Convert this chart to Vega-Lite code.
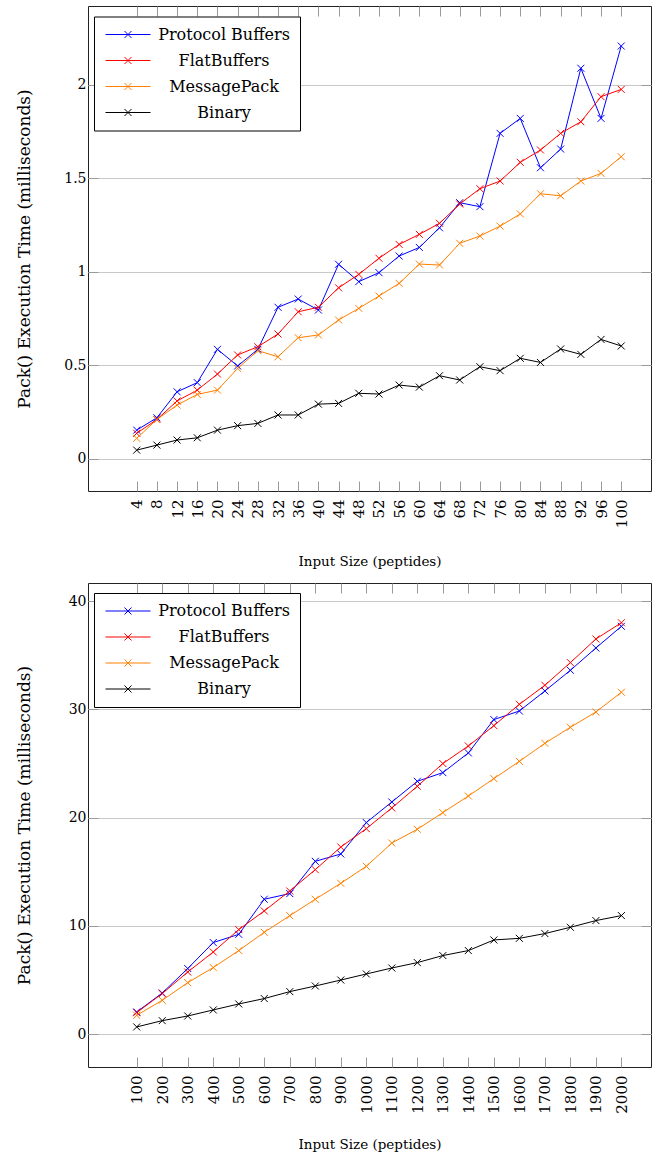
{
  "$schema": "https://vega.github.io/schema/vega-lite/v6.json",
  "background": "white",
  "padding": {"left": 14, "top": 5, "right": 5, "bottom": 5},
  "spacing": 13,
  "datasets": {
    "small": [
      {"size": 4, "lib": "Protocol Buffers", "time": 0.153}, {"size": 8, "lib": "Protocol Buffers", "time": 0.219}, {"size": 12, "lib": "Protocol Buffers", "time": 0.358}, {"size": 16, "lib": "Protocol Buffers", "time": 0.407}, {"size": 20, "lib": "Protocol Buffers", "time": 0.585}, {"size": 24, "lib": "Protocol Buffers", "time": 0.496}, {"size": 28, "lib": "Protocol Buffers", "time": 0.585}, {"size": 32, "lib": "Protocol Buffers", "time": 0.81}, {"size": 36, "lib": "Protocol Buffers", "time": 0.854}, {"size": 40, "lib": "Protocol Buffers", "time": 0.795}, {"size": 44, "lib": "Protocol Buffers", "time": 1.04}, {"size": 48, "lib": "Protocol Buffers", "time": 0.947}, {"size": 52, "lib": "Protocol Buffers", "time": 0.995}, {"size": 56, "lib": "Protocol Buffers", "time": 1.084}, {"size": 60, "lib": "Protocol Buffers", "time": 1.13}, {"size": 64, "lib": "Protocol Buffers", "time": 1.235}, {"size": 68, "lib": "Protocol Buffers", "time": 1.369}, {"size": 72, "lib": "Protocol Buffers", "time": 1.348}, {"size": 76, "lib": "Protocol Buffers", "time": 1.74}, {"size": 80, "lib": "Protocol Buffers", "time": 1.82}, {"size": 84, "lib": "Protocol Buffers", "time": 1.556}, {"size": 88, "lib": "Protocol Buffers", "time": 1.656}, {"size": 92, "lib": "Protocol Buffers", "time": 2.088}, {"size": 96, "lib": "Protocol Buffers", "time": 1.82}, {"size": 100, "lib": "Protocol Buffers", "time": 2.207},
      {"size": 4, "lib": "FlatBuffers", "time": 0.136}, {"size": 8, "lib": "FlatBuffers", "time": 0.21}, {"size": 12, "lib": "FlatBuffers", "time": 0.309}, {"size": 16, "lib": "FlatBuffers", "time": 0.367}, {"size": 20, "lib": "FlatBuffers", "time": 0.453}, {"size": 24, "lib": "FlatBuffers", "time": 0.555}, {"size": 28, "lib": "FlatBuffers", "time": 0.599}, {"size": 32, "lib": "FlatBuffers", "time": 0.667}, {"size": 36, "lib": "FlatBuffers", "time": 0.786}, {"size": 40, "lib": "FlatBuffers", "time": 0.81}, {"size": 44, "lib": "FlatBuffers", "time": 0.914}, {"size": 48, "lib": "FlatBuffers", "time": 0.986}, {"size": 52, "lib": "FlatBuffers", "time": 1.072}, {"size": 56, "lib": "FlatBuffers", "time": 1.146}, {"size": 60, "lib": "FlatBuffers", "time": 1.2}, {"size": 64, "lib": "FlatBuffers", "time": 1.259}, {"size": 68, "lib": "FlatBuffers", "time": 1.362}, {"size": 72, "lib": "FlatBuffers", "time": 1.444}, {"size": 76, "lib": "FlatBuffers", "time": 1.485}, {"size": 80, "lib": "FlatBuffers", "time": 1.585}, {"size": 84, "lib": "FlatBuffers", "time": 1.651}, {"size": 88, "lib": "FlatBuffers", "time": 1.74}, {"size": 92, "lib": "FlatBuffers", "time": 1.802}, {"size": 96, "lib": "FlatBuffers", "time": 1.936}, {"size": 100, "lib": "FlatBuffers", "time": 1.975},
      {"size": 4, "lib": "MessagePack", "time": 0.109}, {"size": 8, "lib": "MessagePack", "time": 0.21}, {"size": 12, "lib": "MessagePack", "time": 0.287}, {"size": 16, "lib": "MessagePack", "time": 0.344}, {"size": 20, "lib": "MessagePack", "time": 0.367}, {"size": 24, "lib": "MessagePack", "time": 0.483}, {"size": 28, "lib": "MessagePack", "time": 0.578}, {"size": 32, "lib": "MessagePack", "time": 0.545}, {"size": 36, "lib": "MessagePack", "time": 0.647}, {"size": 40, "lib": "MessagePack", "time": 0.662}, {"size": 44, "lib": "MessagePack", "time": 0.742}, {"size": 48, "lib": "MessagePack", "time": 0.804}, {"size": 52, "lib": "MessagePack", "time": 0.87}, {"size": 56, "lib": "MessagePack", "time": 0.938}, {"size": 60, "lib": "MessagePack", "time": 1.041}, {"size": 64, "lib": "MessagePack", "time": 1.036}, {"size": 68, "lib": "MessagePack", "time": 1.152}, {"size": 72, "lib": "MessagePack", "time": 1.191}, {"size": 76, "lib": "MessagePack", "time": 1.244}, {"size": 80, "lib": "MessagePack", "time": 1.309}, {"size": 84, "lib": "MessagePack", "time": 1.417}, {"size": 88, "lib": "MessagePack", "time": 1.406}, {"size": 92, "lib": "MessagePack", "time": 1.485}, {"size": 96, "lib": "MessagePack", "time": 1.526}, {"size": 100, "lib": "MessagePack", "time": 1.615},
      {"size": 4, "lib": "Binary", "time": 0.046}, {"size": 8, "lib": "Binary", "time": 0.073}, {"size": 12, "lib": "Binary", "time": 0.1}, {"size": 16, "lib": "Binary", "time": 0.112}, {"size": 20, "lib": "Binary", "time": 0.153}, {"size": 24, "lib": "Binary", "time": 0.177}, {"size": 28, "lib": "Binary", "time": 0.189}, {"size": 32, "lib": "Binary", "time": 0.234}, {"size": 36, "lib": "Binary", "time": 0.234}, {"size": 40, "lib": "Binary", "time": 0.292}, {"size": 44, "lib": "Binary", "time": 0.296}, {"size": 48, "lib": "Binary", "time": 0.35}, {"size": 52, "lib": "Binary", "time": 0.346}, {"size": 56, "lib": "Binary", "time": 0.394}, {"size": 60, "lib": "Binary", "time": 0.383}, {"size": 64, "lib": "Binary", "time": 0.444}, {"size": 68, "lib": "Binary", "time": 0.421}, {"size": 72, "lib": "Binary", "time": 0.492}, {"size": 76, "lib": "Binary", "time": 0.471}, {"size": 80, "lib": "Binary", "time": 0.537}, {"size": 84, "lib": "Binary", "time": 0.515}, {"size": 88, "lib": "Binary", "time": 0.587}, {"size": 92, "lib": "Binary", "time": 0.558}, {"size": 96, "lib": "Binary", "time": 0.638}, {"size": 100, "lib": "Binary", "time": 0.603}
    ],
    "large": [
      {"size": 100, "lib": "Protocol Buffers", "time": 2.06}, {"size": 200, "lib": "Protocol Buffers", "time": 3.81}, {"size": 300, "lib": "Protocol Buffers", "time": 6.07}, {"size": 400, "lib": "Protocol Buffers", "time": 8.47}, {"size": 500, "lib": "Protocol Buffers", "time": 9.23}, {"size": 600, "lib": "Protocol Buffers", "time": 12.47}, {"size": 700, "lib": "Protocol Buffers", "time": 12.99}, {"size": 800, "lib": "Protocol Buffers", "time": 15.97}, {"size": 900, "lib": "Protocol Buffers", "time": 16.65}, {"size": 1000, "lib": "Protocol Buffers", "time": 19.55}, {"size": 1100, "lib": "Protocol Buffers", "time": 21.45}, {"size": 1200, "lib": "Protocol Buffers", "time": 23.36}, {"size": 1300, "lib": "Protocol Buffers", "time": 24.16}, {"size": 1400, "lib": "Protocol Buffers", "time": 25.98}, {"size": 1500, "lib": "Protocol Buffers", "time": 29.06}, {"size": 1600, "lib": "Protocol Buffers", "time": 29.85}, {"size": 1700, "lib": "Protocol Buffers", "time": 31.7}, {"size": 1800, "lib": "Protocol Buffers", "time": 33.61}, {"size": 1900, "lib": "Protocol Buffers", "time": 35.67}, {"size": 2000, "lib": "Protocol Buffers", "time": 37.67},
      {"size": 100, "lib": "FlatBuffers", "time": 2.0}, {"size": 200, "lib": "FlatBuffers", "time": 3.76}, {"size": 300, "lib": "FlatBuffers", "time": 5.75}, {"size": 400, "lib": "FlatBuffers", "time": 7.6}, {"size": 500, "lib": "FlatBuffers", "time": 9.67}, {"size": 600, "lib": "FlatBuffers", "time": 11.39}, {"size": 700, "lib": "FlatBuffers", "time": 13.23}, {"size": 800, "lib": "FlatBuffers", "time": 15.2}, {"size": 900, "lib": "FlatBuffers", "time": 17.29}, {"size": 1000, "lib": "FlatBuffers", "time": 18.99}, {"size": 1100, "lib": "FlatBuffers", "time": 20.9}, {"size": 1200, "lib": "FlatBuffers", "time": 22.9}, {"size": 1300, "lib": "FlatBuffers", "time": 25.0}, {"size": 1400, "lib": "FlatBuffers", "time": 26.62}, {"size": 1500, "lib": "FlatBuffers", "time": 28.5}, {"size": 1600, "lib": "FlatBuffers", "time": 30.47}, {"size": 1700, "lib": "FlatBuffers", "time": 32.23}, {"size": 1800, "lib": "FlatBuffers", "time": 34.32}, {"size": 1900, "lib": "FlatBuffers", "time": 36.5}, {"size": 2000, "lib": "FlatBuffers", "time": 38.0},
      {"size": 100, "lib": "MessagePack", "time": 1.75}, {"size": 200, "lib": "MessagePack", "time": 3.14}, {"size": 300, "lib": "MessagePack", "time": 4.77}, {"size": 400, "lib": "MessagePack", "time": 6.16}, {"size": 500, "lib": "MessagePack", "time": 7.73}, {"size": 600, "lib": "MessagePack", "time": 9.42}, {"size": 700, "lib": "MessagePack", "time": 10.95}, {"size": 800, "lib": "MessagePack", "time": 12.47}, {"size": 900, "lib": "MessagePack", "time": 13.94}, {"size": 1000, "lib": "MessagePack", "time": 15.51}, {"size": 1100, "lib": "MessagePack", "time": 17.66}, {"size": 1200, "lib": "MessagePack", "time": 18.93}, {"size": 1300, "lib": "MessagePack", "time": 20.47}, {"size": 1400, "lib": "MessagePack", "time": 22.0}, {"size": 1500, "lib": "MessagePack", "time": 23.61}, {"size": 1600, "lib": "MessagePack", "time": 25.2}, {"size": 1700, "lib": "MessagePack", "time": 26.87}, {"size": 1800, "lib": "MessagePack", "time": 28.35}, {"size": 1900, "lib": "MessagePack", "time": 29.76}, {"size": 2000, "lib": "MessagePack", "time": 31.58},
      {"size": 100, "lib": "Binary", "time": 0.68}, {"size": 200, "lib": "Binary", "time": 1.26}, {"size": 300, "lib": "Binary", "time": 1.69}, {"size": 400, "lib": "Binary", "time": 2.25}, {"size": 500, "lib": "Binary", "time": 2.8}, {"size": 600, "lib": "Binary", "time": 3.3}, {"size": 700, "lib": "Binary", "time": 3.94}, {"size": 800, "lib": "Binary", "time": 4.46}, {"size": 900, "lib": "Binary", "time": 5.01}, {"size": 1000, "lib": "Binary", "time": 5.57}, {"size": 1100, "lib": "Binary", "time": 6.12}, {"size": 1200, "lib": "Binary", "time": 6.62}, {"size": 1300, "lib": "Binary", "time": 7.27}, {"size": 1400, "lib": "Binary", "time": 7.73}, {"size": 1500, "lib": "Binary", "time": 8.71}, {"size": 1600, "lib": "Binary", "time": 8.86}, {"size": 1700, "lib": "Binary", "time": 9.3}, {"size": 1800, "lib": "Binary", "time": 9.88}, {"size": 1900, "lib": "Binary", "time": 10.5}, {"size": 2000, "lib": "Binary", "time": 10.96}
    ]
  },
  "vconcat": [
    {
      "width": 563,
      "height": 485,
      "data": {"name": "small"},
      "layer": [
        {
          "mark": {"type": "line", "strokeWidth": 1},
          "encoding": {
            "x": {"field": "size", "type": "quantitative",
              "scale": {"domain": [-5.65, 105.9], "nice": false, "zero": false},
              "axis": {"orient": "bottom", "values": [4,8,12,16,20,24,28,32,36,40,44,48,52,56,60,64,68,72,76,80,84,88,92,96,100], "labelAngle": -90, "labelFontSize": 15, "labelPadding": 18, "tickSize": -10, "grid": false, "title": "Input Size (peptides)", "titlePadding": 27}},
            "y": {"field": "time", "type": "quantitative",
              "scale": {"domain": [-0.1725, 2.421], "nice": false, "zero": false},
              "axis": {"orient": "left", "values": [0, 0.5, 1, 1.5, 2], "format": "~g", "labelPadding": 12, "tickSize": -10, "grid": true, "title": "Pack() Execution Time (milliseconds)", "titleFontSize": 17, "titleX": -64, "titleY": 242.5, "titleBaseline": "middle", "titleAngle": -90}},
            "color": {"field": "lib", "type": "nominal",
              "scale": {"domain": ["Protocol Buffers", "FlatBuffers", "MessagePack", "Binary"], "range": ["#0000ff", "#ff0000", "#ff8000", "#000000"]},
              "legend": {"title": null, "orient": "none", "legendX": 6, "legendY": 10.5,
                "symbolType": "M-4.5,0H4.5M-0.7,-0.7L0.7,0.7M-0.7,0.7L0.7,-0.7",
                "symbolSize": 100, "symbolStrokeWidth": 1, "symbolOffset": 16,
                "labelAlign": "center", "labelOffset": 88, "labelFontSize": 16, "labelFont": "DejaVu Serif", "labelColor": "black", "labelLimit": 400,
                "rowPadding": 10, "padding": 10, "strokeColor": "black", "fillColor": "white", "cornerRadius": 0}}
          }
        },
        {
          "mark": {"type": "point", "shape": "M-1,-1L1,1M-1,1L1,-1", "filled": false, "size": 49, "strokeWidth": 1, "opacity": 1},
          "encoding": {
            "x": {"field": "size", "type": "quantitative",
              "axis": {"orient": "top", "values": [4,8,12,16,20,24,28,32,36,40,44,48,52,56,60,64,68,72,76,80,84,88,92,96,100], "labels": false, "tickSize": -10, "grid": false, "title": null}},
            "y": {"field": "time", "type": "quantitative",
              "axis": {"orient": "right", "values": [0, 0.5, 1, 1.5, 2], "labels": false, "tickSize": -10, "grid": false, "title": null}},
            "color": {"field": "lib", "type": "nominal", "legend": null}
          }
        }
      ],
      "resolve": {"axis": {"x": "independent", "y": "independent"}}
    },
    {
      "width": 563,
      "height": 484,
      "data": {"name": "large"},
      "layer": [
        {
          "mark": {"type": "line", "strokeWidth": 1},
          "encoding": {
            "x": {"field": "size", "type": "quantitative",
              "scale": {"domain": [-91, 2116], "nice": false, "zero": false},
              "axis": {"orient": "bottom", "values": [100,200,300,400,500,600,700,800,900,1000,1100,1200,1300,1400,1500,1600,1700,1800,1900,2000], "format": "d", "labelAngle": -90, "labelFontSize": 15, "labelPadding": 18, "tickSize": -10, "grid": false, "title": "Input Size (peptides)", "titlePadding": 24}},
            "y": {"field": "time", "type": "quantitative",
              "scale": {"domain": [-3.02, 41.67], "nice": false, "zero": false},
              "axis": {"orient": "left", "values": [0, 10, 20, 30, 40], "format": "d", "labelPadding": 12, "tickSize": -10, "grid": true, "title": "Pack() Execution Time (milliseconds)", "titleFontSize": 17, "titleX": -64, "titleY": 242, "titleBaseline": "middle", "titleAngle": -90}},
            "color": {"field": "lib", "type": "nominal",
              "scale": {"domain": ["Protocol Buffers", "FlatBuffers", "MessagePack", "Binary"], "range": ["#0000ff", "#ff0000", "#ff8000", "#000000"]},
              "legend": {"title": null, "orient": "none", "legendX": 6, "legendY": 10,
                "symbolType": "M-4.5,0H4.5M-0.7,-0.7L0.7,0.7M-0.7,0.7L0.7,-0.7",
                "symbolSize": 100, "symbolStrokeWidth": 1, "symbolOffset": 16,
                "labelAlign": "center", "labelOffset": 88, "labelFontSize": 16, "labelFont": "DejaVu Serif", "labelColor": "black", "labelLimit": 400,
                "rowPadding": 10, "padding": 10, "strokeColor": "black", "fillColor": "white", "cornerRadius": 0}}
          }
        },
        {
          "mark": {"type": "point", "shape": "M-1,-1L1,1M-1,1L1,-1", "filled": false, "size": 49, "strokeWidth": 1, "opacity": 1},
          "encoding": {
            "x": {"field": "size", "type": "quantitative",
              "axis": {"orient": "top", "values": [100,200,300,400,500,600,700,800,900,1000,1100,1200,1300,1400,1500,1600,1700,1800,1900,2000], "labels": false, "tickSize": -10, "grid": false, "title": null}},
            "y": {"field": "time", "type": "quantitative",
              "axis": {"orient": "right", "values": [0, 10, 20, 30, 40], "labels": false, "tickSize": -10, "grid": false, "title": null}},
            "color": {"field": "lib", "type": "nominal", "legend": null}
          }
        }
      ],
      "resolve": {"axis": {"x": "independent", "y": "independent"}}
    }
  ],
  "resolve": {"scale": {"x": "independent", "y": "independent", "color": "independent"}, "legend": {"color": "independent"}},
  "config": {
    "view": {"stroke": "#222222", "strokeWidth": 1},
    "axis": {"labelFont": "DejaVu Serif", "titleFont": "DejaVu Serif", "labelFontSize": 14, "titleFontSize": 13.5, "labelColor": "black", "titleColor": "black", "titleFontWeight": "normal", "domain": false, "tickColor": "#999999", "gridColor": "#c8c8c8", "gridWidth": 1},
    "legend": {"labelFont": "DejaVu Serif"}
  }
}
